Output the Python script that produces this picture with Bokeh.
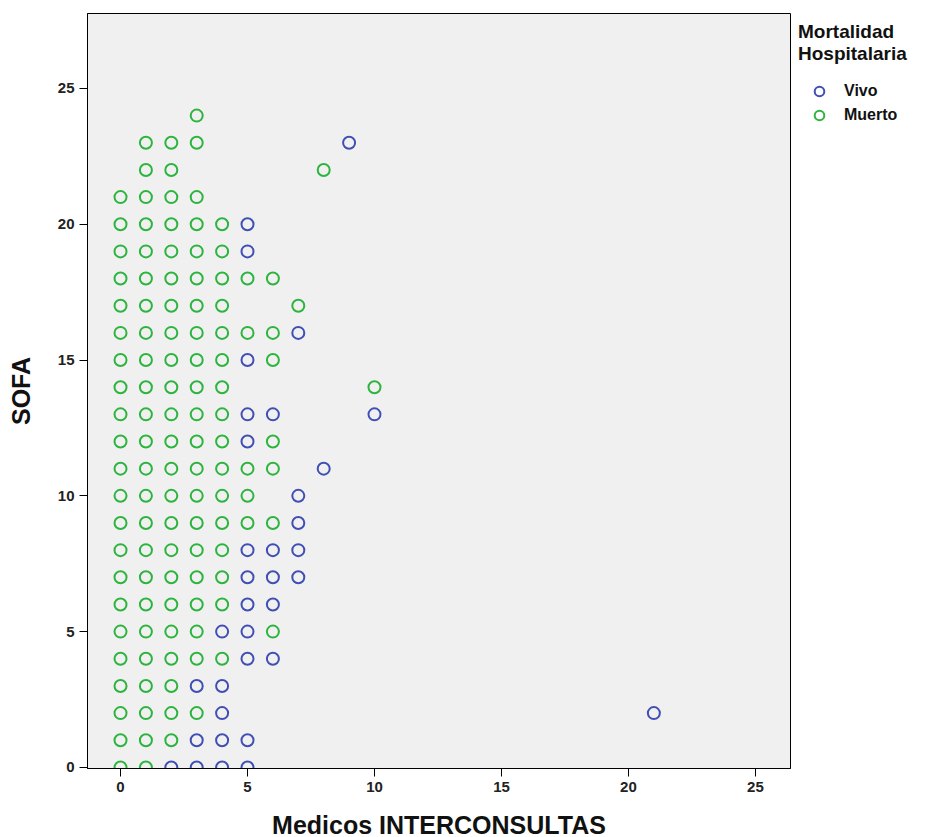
from bokeh.plotting import figure
from bokeh.models import Range1d, Legend, LegendItem, FixedTicker
from bokeh.embed import file_html
from bokeh.resources import INLINE

# Medicos INTERCONSULTAS (x) vs SOFA (y), by Mortalidad Hospitalaria
vivo_x = [9, 5, 5, 7, 5, 5, 6, 10, 5, 8, 7, 7, 5, 6, 7, 5, 6, 7, 5, 6,
          4, 5, 5, 6, 3, 4, 4, 21, 3, 4, 5, 2, 3, 4, 5]
vivo_y = [23, 20, 19, 16, 15, 13, 13, 13, 12, 11, 10, 9, 8, 8, 8, 7, 7, 7, 6, 6,
          5, 5, 4, 4, 3, 3, 2, 2, 1, 1, 1, 0, 0, 0, 0]

muerto_x = [3,
            1, 2, 3,
            1, 2, 8,
            0, 1, 2, 3,
            0, 1, 2, 3, 4,
            0, 1, 2, 3, 4,
            0, 1, 2, 3, 4, 5, 6,
            0, 1, 2, 3, 4, 7,
            0, 1, 2, 3, 4, 5, 6,
            0, 1, 2, 3, 4, 6,
            0, 1, 2, 3, 4, 10,
            0, 1, 2, 3, 4,
            0, 1, 2, 3, 4, 6,
            0, 1, 2, 3, 4, 5, 6,
            0, 1, 2, 3, 4, 5,
            0, 1, 2, 3, 4, 5, 6,
            0, 1, 2, 3, 4,
            0, 1, 2, 3, 4,
            0, 1, 2, 3, 4,
            0, 1, 2, 3, 6,
            0, 1, 2, 3, 4,
            0, 1, 2,
            0, 1, 2, 3,
            0, 1, 2,
            0, 1]
muerto_y = [24,
            23, 23, 23,
            22, 22, 22,
            21, 21, 21, 21,
            20, 20, 20, 20, 20,
            19, 19, 19, 19, 19,
            18, 18, 18, 18, 18, 18, 18,
            17, 17, 17, 17, 17, 17,
            16, 16, 16, 16, 16, 16, 16,
            15, 15, 15, 15, 15, 15,
            14, 14, 14, 14, 14, 14,
            13, 13, 13, 13, 13,
            12, 12, 12, 12, 12, 12,
            11, 11, 11, 11, 11, 11, 11,
            10, 10, 10, 10, 10, 10,
            9, 9, 9, 9, 9, 9, 9,
            8, 8, 8, 8, 8,
            7, 7, 7, 7, 7,
            6, 6, 6, 6, 6,
            5, 5, 5, 5, 5,
            4, 4, 4, 4, 4,
            3, 3, 3,
            2, 2, 2, 2,
            1, 1, 1,
            0, 0]

x_ticks = [0, 5, 10, 15, 20, 25]
y_ticks = [0, 5, 10, 15, 20, 25]
series_names = ["Vivo", "Muerto"]

BLUE = "#3F4FB3"
GREEN = "#2DB43F"
FONT = "Liberation Sans"

p = figure(frame_width=703, frame_height=755, output_backend="svg",
           toolbar_location=None,
           x_range=Range1d(-1.3, 26.38), y_range=Range1d(-0.04, 27.76),
           min_border_left=87, min_border_top=13, min_border_bottom=68,
           min_border_right=130)

p.background_fill_color = "#F0F0F0"
p.border_fill_color = "white"
p.outline_line_color = "black"
p.outline_line_width = 1
p.xgrid.visible = False
p.ygrid.visible = False

rv = p.scatter(vivo_x, vivo_y, marker="circle", size=12, fill_color=None,
               line_color=BLUE, line_width=2)
rm = p.scatter(muerto_x, muerto_y, marker="circle", size=12, fill_color=None,
               line_color=GREEN, line_width=2)

for ax in (p.xaxis[0], p.yaxis[0]):
    ax.major_label_text_font = FONT
    ax.major_label_text_font_style = "bold"
    ax.major_label_text_font_size = "15px"
    ax.major_label_text_color = "#222222"
    ax.axis_label_text_font = FONT
    ax.axis_label_text_font_style = "bold"
    ax.axis_label_text_font_size = "25px"
    ax.axis_label_text_color = "#111111"
    ax.axis_line_color = "black"
    ax.major_tick_line_color = "black"
    ax.major_tick_out = 8
    ax.major_tick_in = 0
    ax.minor_tick_line_color = None

p.xaxis[0].ticker = FixedTicker(ticks=x_ticks)
p.yaxis[0].ticker = FixedTicker(ticks=y_ticks)
p.xaxis[0].axis_label = "Medicos INTERCONSULTAS"
p.yaxis[0].axis_label = "SOFA"
p.xaxis[0].axis_label_standoff = 16
p.yaxis[0].axis_label_standoff = 20

legend = Legend(items=[LegendItem(label=series_names[0], renderers=[rv]),
                       LegendItem(label=series_names[1], renderers=[rm])],
                location="top_left", title="Mortalidad\nHospitalaria",
                title_text_font=FONT, title_text_font_style="bold",
                title_text_font_size="19px", title_text_color="#111111",
                label_text_font=FONT, label_text_font_style="bold",
                label_text_font_size="16px", label_text_color="#111111",
                background_fill_alpha=0, border_line_color=None,
                glyph_width=42, glyph_height=24, label_standoff=4,
                spacing=0, padding=4, margin=8, title_standoff=14,
                label_height=22)
p.add_layout(legend, "right")

open("out.html", "w").write(file_html(p, INLINE))
